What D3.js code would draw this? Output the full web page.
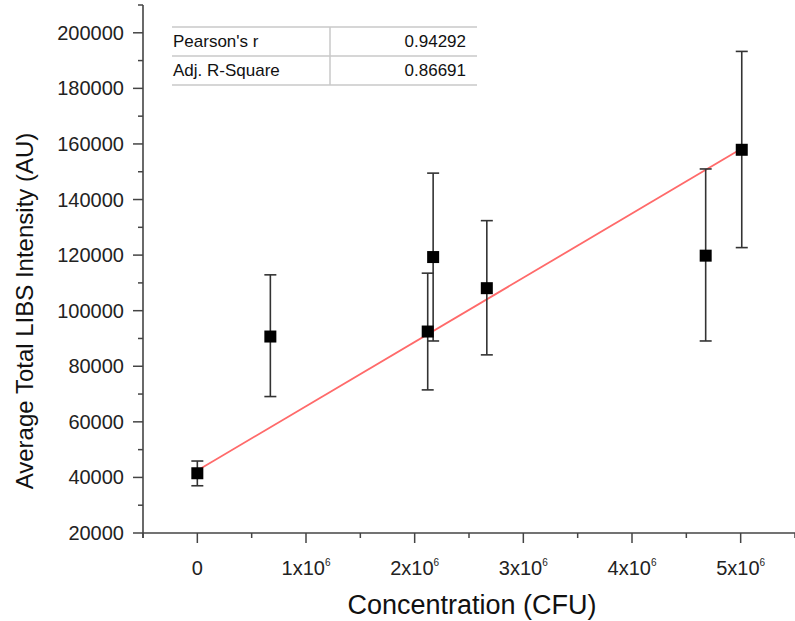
<!DOCTYPE html>
<html><head><meta charset="utf-8">
<script src="https://cdn.jsdelivr.net/npm/d3@7"></script>
<style>
html,body{margin:0;padding:0;background:#fff;}
svg{display:block;font-family:Arial,"Liberation Sans",sans-serif;}
</style></head>
<body>
<svg id="chart" width="795" height="621"></svg>
<script>
// ---- data ----
const concentration = [0, 0.672e6, 2.12e6, 2.17e6, 2.664e6, 4.678e6, 5.01e6];
const intensity     = [41500, 90700, 92500, 119300, 108100, 119800, 157900];
const errLow        = [37000, 69100, 71500, 89100, 84100, 89100, 122700];
const errHigh       = [45900, 112900, 113500, 149500, 132400, 151000, 193300];
const fitIntercept = 42500;
const fitSlope = 0.02312;
const yTickValues = [20000, 40000, 60000, 80000, 100000, 120000, 140000, 160000, 180000, 200000];
const xTickValues = [0, 1e6, 2e6, 3e6, 4e6, 5e6];
const statsLabels = ["Pearson's r", "Adj. R-Square"];
const statsValues = ["0.94292", "0.86691"];
const xTitle = "Concentration (CFU)";
const yTitle = "Average Total LIBS Intensity (AU)";

const svg = d3.select("#chart");
const x = d3.scaleLinear().domain([-0.5e6, 5.5e6]).range([143, 795]);
const y = d3.scaleLinear().domain([20000, 210000]).range([533, 5]);
const axisColor = "#444";

// x axis
const xAxis = svg.append("g").attr("transform", "translate(0,533)");
xAxis.append("line").attr("x1", 143).attr("x2", 795).attr("y1", 0).attr("y2", 0)
  .attr("stroke", axisColor).attr("stroke-width", 1.6);
const xMinor = d3.range(-0.5e6, 5.6e6, 1e6);
xAxis.selectAll(".xm").data(xMinor).join("line")
  .attr("x1", d => x(d)).attr("x2", d => x(d)).attr("y1", 0).attr("y2", 5)
  .attr("stroke", axisColor).attr("stroke-width", 1.5);
xAxis.selectAll(".xM").data(xTickValues).join("line")
  .attr("x1", d => x(d)).attr("x2", d => x(d)).attr("y1", 0).attr("y2", 10)
  .attr("stroke", axisColor).attr("stroke-width", 1.5);
const xl = xAxis.selectAll(".xl").data(xTickValues).join("text")
  .attr("x", d => x(d)).attr("y", 42).attr("text-anchor", "middle")
  .attr("font-size", 20).attr("fill", "#222");
xl.each(function(d){
  const t = d3.select(this);
  if (d === 0) { t.text("0"); return; }
  t.append("tspan").text((d/1e6) + "x10");
  t.append("tspan").attr("font-size", 10).attr("dy", -9).text("6");
});

// y axis
const yAxis = svg.append("g").attr("transform", "translate(143,0)");
yAxis.append("line").attr("x1", 0).attr("x2", 0).attr("y1", y(210000)).attr("y2", 538)
  .attr("stroke", axisColor).attr("stroke-width", 1.6);
const yMinor = d3.range(30000, 210001, 20000);
yAxis.selectAll(".ym").data(yMinor).join("line")
  .attr("x1", -5).attr("x2", 0).attr("y1", d => y(d)).attr("y2", d => y(d))
  .attr("stroke", axisColor).attr("stroke-width", 1.5);
yAxis.selectAll(".yM").data(yTickValues).join("line")
  .attr("x1", -10).attr("x2", 0).attr("y1", d => y(d)).attr("y2", d => y(d))
  .attr("stroke", axisColor).attr("stroke-width", 1.5);
yAxis.selectAll(".yl").data(yTickValues).join("text")
  .attr("x", -19).attr("y", d => y(d) + 7).attr("text-anchor", "end")
  .attr("font-size", 20).attr("fill", "#222").text(d => d);

// titles
svg.append("text").attr("x", 472).attr("y", 614).attr("text-anchor", "middle")
  .attr("font-size", 27).attr("fill", "#111").text(xTitle);
svg.append("text").attr("transform", "translate(33,311) rotate(-90)")
  .attr("text-anchor", "middle").attr("font-size", 24).attr("fill", "#111").text(yTitle);

// fit line
const fx = [d3.min(concentration), d3.max(concentration)];
svg.append("line")
  .attr("x1", x(fx[0])).attr("y1", y(fitIntercept + fitSlope * fx[0]))
  .attr("x2", x(fx[1])).attr("y2", y(fitIntercept + fitSlope * fx[1]))
  .attr("stroke", "#ff6a6a").attr("stroke-width", 1.8);

// error bars
const pts = concentration.map((c, i) => ({c, v: intensity[i], lo: errLow[i], hi: errHigh[i]}));
const eb = svg.append("g").attr("stroke", "#333").attr("stroke-width", 1.6);
pts.forEach(p => {
  eb.append("line").attr("x1", x(p.c)).attr("x2", x(p.c)).attr("y1", y(p.lo)).attr("y2", y(p.hi));
  [p.lo, p.hi].forEach(v => eb.append("line")
    .attr("x1", x(p.c) - 6).attr("x2", x(p.c) + 6).attr("y1", y(v)).attr("y2", y(v)));
});
// markers
svg.append("g").selectAll("rect").data(pts).join("rect")
  .attr("x", d => x(d.c) - 6).attr("y", d => y(d.v) - 6)
  .attr("width", 12).attr("height", 12).attr("fill", "#000");

// stats table
const tbl = svg.append("g");
const rowY = [27, 56, 85];
rowY.forEach(ry => tbl.append("line").attr("x1", 172).attr("x2", 477).attr("y1", ry).attr("y2", ry)
  .attr("stroke", "#c8c8c8").attr("stroke-width", 1.5));
tbl.append("line").attr("x1", 330).attr("x2", 330).attr("y1", 27).attr("y2", 85)
  .attr("stroke", "#c8c8c8").attr("stroke-width", 1.5);
statsLabels.forEach((s, i) => {
  tbl.append("text").attr("x", 173).attr("y", rowY[i] + 20).attr("font-size", 17)
    .attr("fill", "#111").text(s);
  tbl.append("text").attr("x", 466).attr("y", rowY[i] + 20).attr("font-size", 17)
    .attr("text-anchor", "end").attr("fill", "#111").text(statsValues[i]);
});
</script>
</body></html>
